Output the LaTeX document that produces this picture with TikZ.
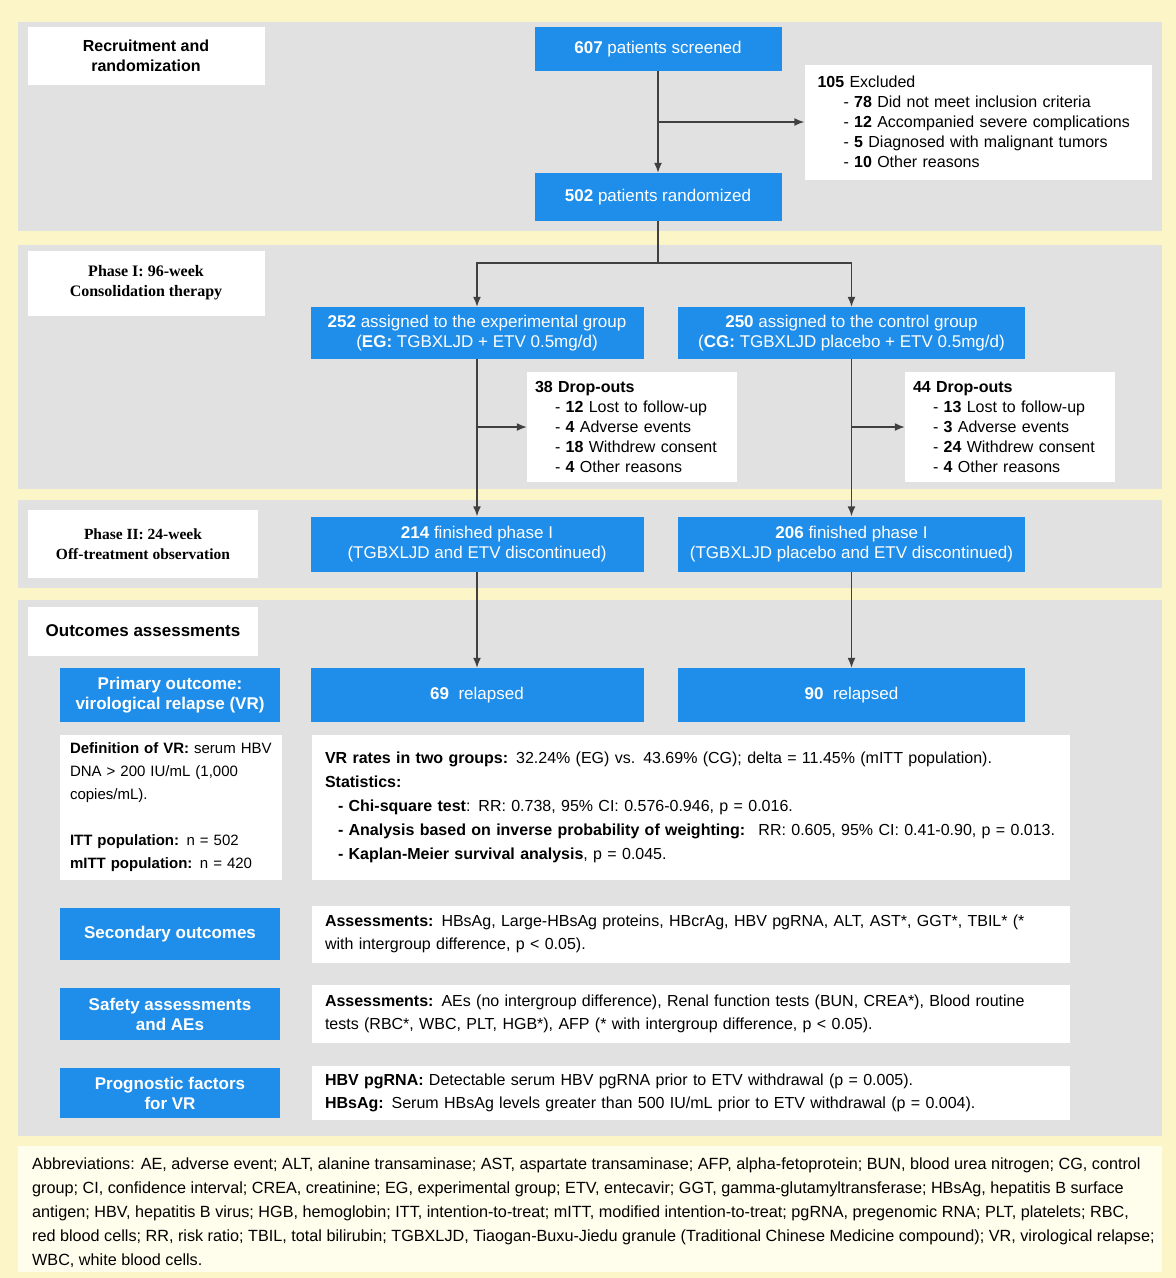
\documentclass[tikz,border=0pt]{standalone}
\usepackage{fontspec}
\setmainfont{Liberation Sans}
\newfontfamily\phaseserif{Liberation Serif}
\usetikzlibrary{arrows.meta,positioning}
\definecolor{flowblue}{HTML}{1F8EEA}
\definecolor{panelgray}{HTML}{E1E1E1}
\definecolor{pageyellow}{HTML}{FFFDEC}
\definecolor{rimyellow}{HTML}{FBF5C8}
\definecolor{linegray}{HTML}{404040}
\newcommand{\fsblue}{\fontsize{17}{20}\selectfont}
\newcommand{\fsnote}{\fontsize{16}{20}\selectfont}
\newcommand{\fsinfo}{\fontsize{16}{24}\selectfont}
\newcommand{\fsside}{\fontsize{16}{23}\selectfont}
\newcommand{\fsdef}{\fontsize{15}{23}\selectfont}
\newcommand{\fsabbr}{\fontsize{16.2}{24}\selectfont}
\tikzset{panel/.style={fill=panelgray,draw=none},
 stagelabel/.style={rectangle,fill=white,minimum width=237pt,minimum height=58pt,
  inner sep=2pt,align=center,text=black,font=\fsnote\bfseries},
 flowbox/.style={rectangle,fill=flowblue,text=white,minimum height=52pt,
  inner sep=2pt,align=center,font=\fsblue},
 sidebox/.style={flowbox,minimum width=220pt,font=\fsblue\bfseries},
 detail/.style={rectangle,fill=white,text=black,inner xsep=13pt,inner ysep=3pt,
  align=left,font=\fsnote},
 flow/.style={draw=linegray,line width=1.5pt},
 flowarrow/.style={flow,-{Latex[length=10pt,width=8pt]}}}
\newcommand{\armcolumn}[8]{%
 \node[flowbox,minimum width=#3] (#1assign) at (#2,333) {#4};
 \node[detail,inner xsep=8pt,text width=194pt,minimum height=110pt] (#1drop) at (#5,427) {#6};
 \node[flowbox,minimum width=#3,minimum height=55pt] (#1finish) at (#2,544) {#7};
 \node[flowbox,minimum width=#3,minimum height=54pt] (#1relapse) at (#2,695) {#8};
 \draw[flowarrow] (#1assign)--(#1finish);
 \draw[flowarrow] (#1assign.south |- #1drop.west)--(#1drop.west);
 \draw[flowarrow] (#1finish)--(#1relapse);}

\begin{document}
\begin{tikzpicture}[x=1pt,y=-1pt]
 \useasboundingbox (0,0) rectangle (1176,1278);
 % page and phase panels
 \fill[rimyellow] (0,0) rectangle (1176,1278);
 \fill[pageyellow] (18,1146) rectangle (1162,1272);
 \fill[panel] (18,22) rectangle (1162,231);
 \fill[panel] (18,245) rectangle (1162,489);
 \fill[panel] (18,500) rectangle (1162,588);
 \fill[panel] (18,600) rectangle (1162,1136);
 % recruitment and randomization
 \node[stagelabel] (recruit) at (146,56) {Recruitment and\\randomization};
 \node[flowbox,minimum width=247pt,minimum height=44pt] (screened) at (658,49)
  {\textbf{607} patients screened};
 \node[detail,text width=321pt,minimum height=115pt] (excluded) at (978,122)
  {\textbf{105} Excluded\\
   \hspace*{26pt}- \textbf{78} Did not meet inclusion criteria\\
   \hspace*{26pt}- \textbf{12} Accompanied severe complications\\
   \hspace*{26pt}- \textbf{5} Diagnosed with malignant tumors\\
   \hspace*{26pt}- \textbf{10} Other reasons};
 \node[flowbox,minimum width=247pt,minimum height=48pt] (randomized) at (658,197)
  {\textbf{502} patients randomized};
 \coordinate (split) at (658,263);
 \draw[flowarrow] (screened)--(randomized);
 \draw[flowarrow] (screened.south |- excluded.west)--(excluded.west);
 \draw[flow] (randomized)--(split);
 % phase labels
 \node[stagelabel,font=\fsnote\phaseserif\bfseries,minimum height=65pt] (phaseone)
  at (146,283) {Phase I: 96-week\\Consolidation therapy};
 \node[stagelabel,font=\fontsize{15.5}{20}\selectfont\phaseserif\bfseries,
  minimum width=230pt,minimum height=68pt] (phasetwo)
  at (143,544) {Phase II: 24-week\\Off-treatment observation};
 \node[stagelabel,font=\fontsize{17}{20}\selectfont\bfseries,
  minimum width=230pt,minimum height=49pt] (outcomes)
  at (143,631) {Outcomes assessments};
 % the two arms
 \armcolumn{eg}{477}{333pt}
  {\textbf{252} assigned to the experimental group\\(\textbf{EG:} TGBXLJD + ETV 0.5mg/d)}
  {632}
  {\textbf{38 Drop-outs}\\
   \hspace*{20pt}- \textbf{12} Lost to follow-up\\
   \hspace*{20pt}- \textbf{4} Adverse events\\
   \hspace*{20pt}- \textbf{18} Withdrew consent\\
   \hspace*{20pt}- \textbf{4} Other reasons}
  {\textbf{214} finished phase I\\(TGBXLJD and ETV discontinued)}
  {\textbf{69}~~relapsed}
 \armcolumn{cg}{851.5}{347pt}
  {\textbf{250} assigned to the control group\\(\textbf{CG:} TGBXLJD placebo + ETV 0.5mg/d)}
  {1010}
  {\textbf{44 Drop-outs}\\
   \hspace*{20pt}- \textbf{13} Lost to follow-up\\
   \hspace*{20pt}- \textbf{3} Adverse events\\
   \hspace*{20pt}- \textbf{24} Withdrew consent\\
   \hspace*{20pt}- \textbf{4} Other reasons}
  {\textbf{206} finished phase I\\(TGBXLJD placebo and ETV discontinued)}
  {\textbf{90}~~relapsed}
 \draw[flowarrow] (split) -| (egassign);
 \draw[flowarrow] (split) -| (cgassign);
 % outcomes
 \node[sidebox,minimum height=54pt] (primary) at (170,695)
  {Primary outcome:\\virological relapse (VR)};
 \node[detail,font=\fsdef,inner xsep=10pt,text width=202pt,minimum height=145pt] (vrdef)
  at (171,807)
  {\textbf{Definition of VR:} serum HBV\\DNA > 200 IU/mL (1,000\\copies/mL).\\[23pt]
   \textbf{ITT population:} n = 502\\\textbf{mITT population:} n = 420};
 \node[detail,font=\fsinfo,text width=732pt,minimum height=145pt] (vrrates) at (691,807)
  {\textbf{VR rates in two groups:} 32.24\% (EG) vs. 43.69\% (CG); delta = 11.45\% (mITT population).\\
   \textbf{Statistics:}\\
   \hspace*{13pt}\textbf{- Chi-square test}: RR: 0.738, 95\% CI: 0.576-0.946, p = 0.016.\\
   \hspace*{13pt}\textbf{- Analysis based on inverse probability of weighting:}~ RR: 0.605, 95\% CI: 0.41-0.90, p = 0.013.\\
   \hspace*{13pt}\textbf{- Kaplan-Meier survival analysis}, p = 0.045.};
 \node[sidebox] (secondary) at (170,934) {Secondary outcomes};
 \node[detail,font=\fsside,text width=732pt,minimum height=57pt] (secnote) at (691,934)
  {\textbf{Assessments:} HBsAg, Large-HBsAg proteins, HBcrAg, HBV pgRNA, ALT, AST*, GGT*, TBIL* (*\\
   with intergroup difference, p < 0.05).};
 \node[sidebox] (safety) at (170,1014) {Safety assessments\\and AEs};
 \node[detail,font=\fsside,text width=732pt,minimum height=58pt] (safenote) at (691,1014)
  {\textbf{Assessments:} AEs (no intergroup difference), Renal function tests (BUN, CREA*), Blood routine\\
   tests (RBC*, WBC, PLT, HGB*), AFP (* with intergroup difference, p < 0.05).};
 \node[sidebox,minimum height=50pt] (prognostic) at (170,1093) {Prognostic factors\\for VR};
 \node[detail,font=\fsside,text width=732pt,minimum height=54pt] (prognote) at (691,1093)
  {\textbf{HBV pgRNA:} Detectable serum HBV pgRNA prior to ETV withdrawal (p = 0.005).\\
   \textbf{HBsAg:} Serum HBsAg levels greater than 500 IU/mL prior to ETV withdrawal (p = 0.004).};
 % abbreviations
 \node[detail,fill=none,font=\fsabbr,inner sep=0pt,anchor=north west] (abbrev) at (32,1158)
  {Abbreviations: AE, adverse event; ALT, alanine transaminase; AST, aspartate transaminase; AFP, alpha-fetoprotein; BUN, blood urea nitrogen; CG, control\\
   group; CI, confidence interval; CREA, creatinine; EG, experimental group; ETV, entecavir; GGT, gamma-glutamyltransferase; HBsAg, hepatitis B surface\\
   antigen; HBV, hepatitis B virus; HGB, hemoglobin; ITT, intention-to-treat; mITT, modified intention-to-treat; pgRNA, pregenomic RNA; PLT, platelets; RBC,\\
   red blood cells; RR, risk ratio; TBIL, total bilirubin; TGBXLJD, Tiaogan-Buxu-Jiedu granule (Traditional Chinese Medicine compound); VR, virological relapse;\\
   WBC, white blood cells.};
\end{tikzpicture}
\end{document}
